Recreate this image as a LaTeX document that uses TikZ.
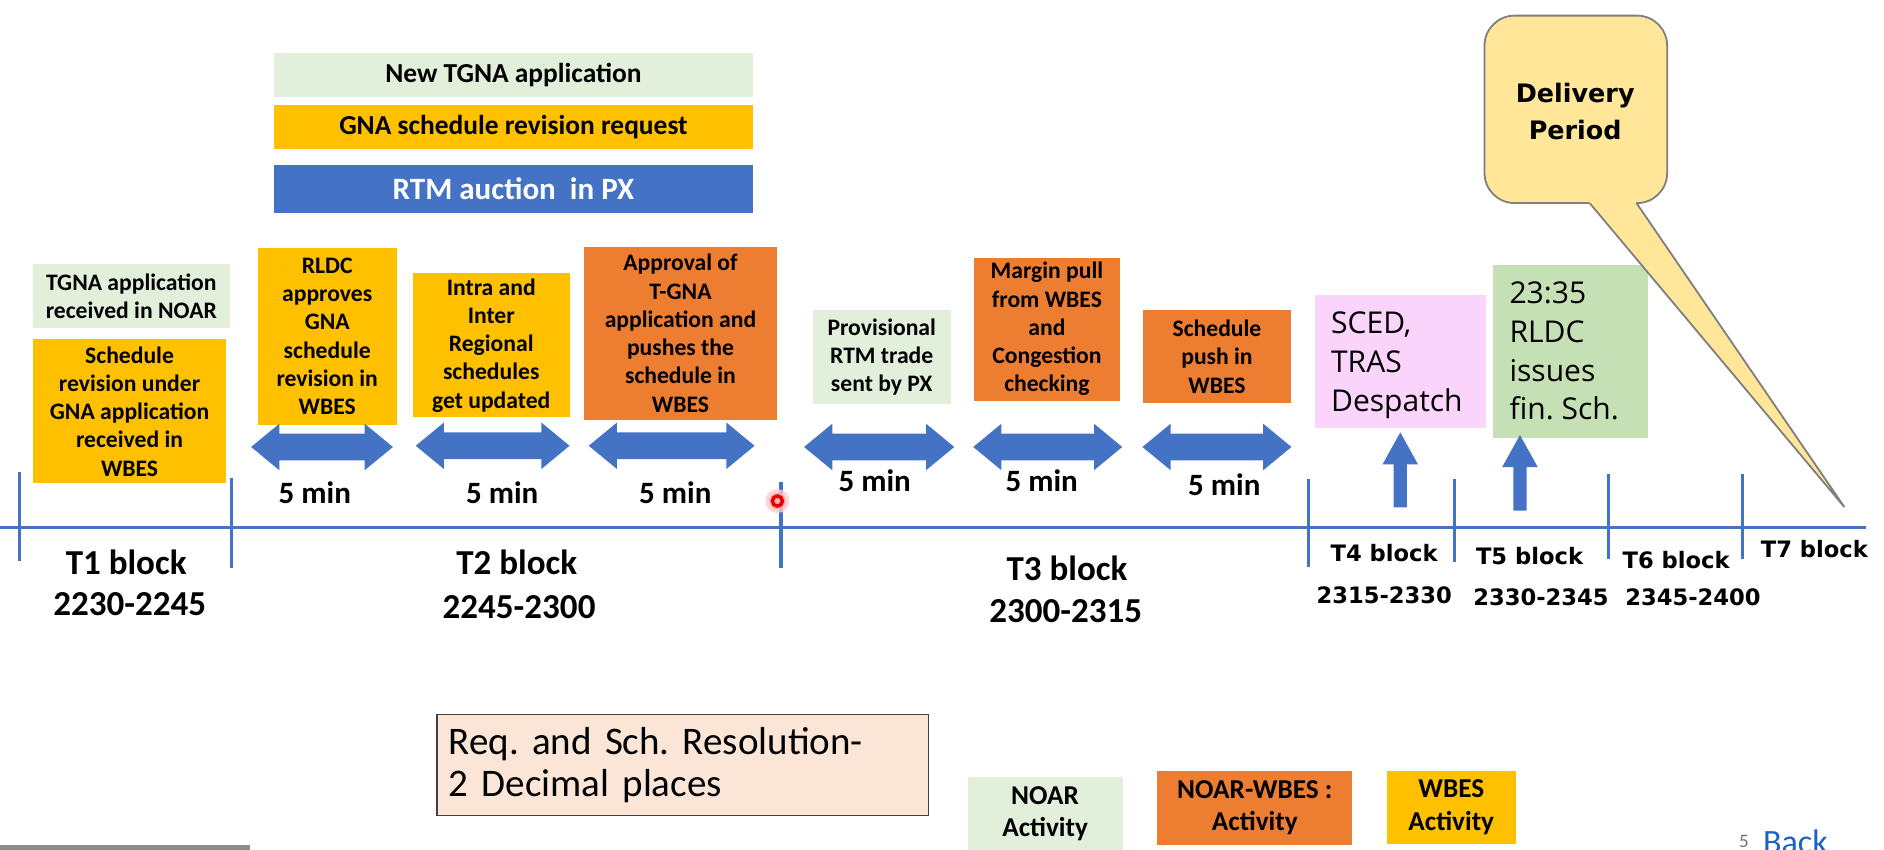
\documentclass[tikz,border=0pt]{standalone}
\usepackage{fontspec}
\setmainfont{Carlito}
\newfontfamily\verdfont{DejaVu Sans}
\newfontfamily\osfont{Open Sans}
\usetikzlibrary{shapes.arrows}
\definecolor{lgreen}{HTML}{E2EFDA}
\definecolor{myyellow}{HTML}{FFC000}
\definecolor{myorange}{HTML}{ED7D31}
\definecolor{myblue}{HTML}{4472C4}
\definecolor{mypink}{HTML}{FAD4FA}
\definecolor{mygreen}{HTML}{C5E0B4}
\definecolor{callfill}{HTML}{FFE699}
\definecolor{callborder}{HTML}{7F7F7F}
\definecolor{reqfill}{HTML}{FBE5D6}
\definecolor{backblue}{HTML}{1F62C6}
\frenchspacing
\begin{document}
\begin{tikzpicture}[x=0.6pt,y=-0.6pt,
  box/.style={anchor=north west, inner sep=0pt, align=center, text=black,
    font=\bfseries\fontsize{11.8}{14.1}\selectfont},
  topbox/.style={anchor=north west, inner sep=0pt, minimum width=398*0.6pt,
    font=\bfseries\fontsize{13.7}{16}\selectfont},
  dbl/.style={double arrow, fill=myblue, draw=none, inner xsep=0pt,
    inner ysep=10.75*0.6pt, double arrow head extend=8.25*0.6pt,
    double arrow tip angle=79},
  uparr/.style={single arrow, fill=myblue, draw=none, inner xsep=0pt,
    inner ysep=5.15*0.6pt, single arrow head extend=9.3*0.6pt,
    single arrow tip angle=58, rotate=90},
  mins/.style={font=\bfseries\fontsize{15.5}{18}\selectfont},
  blk/.style={font=\bfseries\fontsize{17.5}{20}\selectfont},
  blks/.style={font=\verdfont\bfseries\fontsize{11.3}{13}\selectfont},
  tl/.style={draw=myblue, line width=1.7pt},
  leg/.style={anchor=north west, inner sep=0pt, align=center,
    font=\bfseries\fontsize{13.6}{16.2}\selectfont},
  note/.style={anchor=north west, inner sep=0pt, align=left,
    font=\osfont\fontsize{15}{19.4}\selectfont},
]
\useasboundingbox (0,0) rectangle (1568,707);
\clip (0,0) rectangle (1568,707);
\fill[white] (0,0) rectangle (1568,707);

% top bars
\node[topbox, fill=lgreen, minimum height=36*0.6pt] (tA) at (228,44) {New TGNA application};
\node[topbox, fill=myyellow, minimum height=37*0.6pt] (tB) at (228,87) {GNA schedule revision request};
\node[topbox, fill=myblue, text=white, minimum height=40*0.6pt,
  font=\bfseries\fontsize{15.5}{18}\selectfont] (tC) at (228,137) {RTM auction~ in PX};

% activity boxes
\node[box, fill=lgreen, minimum width=164*0.6pt, minimum height=54*0.6pt] (b1) at (27,219) {TGNA application\\received in NOAR};
\node[box, fill=myyellow, minimum width=161*0.6pt, minimum height=120*0.6pt] (b2) at (27,282) {Schedule\\revision under\\GNA application\\received in\\WBES};
\node[box, fill=myyellow, minimum width=116*0.6pt, minimum height=147*0.6pt] (b3) at (214,206) {RLDC\\approves\\GNA\\schedule\\revision in\\WBES};
\node[box, fill=myyellow, minimum width=131*0.6pt, minimum height=120*0.6pt] (b4) at (343,227) {Intra and\\Inter\\Regional\\schedules\\get updated};
\node[box, fill=myorange, minimum width=160*0.6pt, minimum height=144*0.6pt] (b5) at (486,205) {Approval of\\T-GNA\\application and\\pushes the\\schedule in\\WBES};
\node[box, fill=lgreen, minimum width=115*0.6pt, minimum height=78*0.6pt] (b6) at (676,258) {Provisional\\RTM trade\\sent by PX};
\node[box, fill=myorange, minimum width=122*0.6pt, minimum height=119*0.6pt] (b7) at (810,214) {Margin pull\\from WBES\\and\\Congestion\\checking};
\node[box, fill=myorange, minimum width=123*0.6pt, minimum height=77*0.6pt] (b8) at (951,258) {Schedule\\push in\\WBES};

% double arrows
\node[dbl, minimum height=118*0.6pt] (d1) at (268,372) {};
\node[dbl, minimum height=128*0.6pt] (d2) at (410,371) {};
\node[dbl, minimum height=138*0.6pt] (d3) at (559,371) {};
\node[dbl, minimum height=125*0.6pt] (d4) at (731.7,372) {};
\node[dbl, minimum height=124*0.6pt] (d5) at (872,372) {};
\node[dbl, minimum height=124*0.6pt] (d6) at (1012.8,372) {};

% 5 min labels
\node[mins] (m1) at (262,410) {5 min};
\node[mins] (m2) at (418,410) {5 min};
\node[mins] (m3) at (562,410) {5 min};
\node[mins] (m4) at (728,400) {5 min};
\node[mins] (m5) at (867,400) {5 min};
\node[mins] (m6) at (1019,403) {5 min};

% timeline
\coordinate (tlL) at (0,439);
\coordinate (tlR) at (1553,439);
\draw[tl] (tlL) -- (tlR);
\draw[tl] (16,393) -- (16,467);
\draw[tl] (192.5,398) -- (192.5,473);
\draw[tl] (650,401) -- (650,473);
\draw[tl] (1089,399) -- (1089,472);
\draw[tl] (1210.5,399) -- (1210.5,468);
\draw[tl] (1338.7,394.5) -- (1338.7,465);
\draw[tl] (1450,394.5) -- (1450,465);

% block labels
\node[blk] (t1) at (105,468) {T1 block};
\node[blk] (r1) at (108,503) {2230-2245};
\node[blk] (t2) at (430,468) {T2 block};
\node[blk] (r2) at (432,505) {2245-2300};
\node[blk] (t3) at (888,473) {T3 block};
\node[blk] (r3) at (887,509) {2300-2315};
\node[blks] (t4) at (1152,460) {T4 block};
\node[blks] (r4) at (1152,495) {2315-2330};
\node[blks] (t5) at (1273,463) {T5 block};
\node[blks] (r5) at (1282.5,497) {2330-2345};
\node[blks] (t6) at (1395,466) {T6 block};
\node[blks] (r6) at (1409,497) {2345-2400};
\node[blks] (t7) at (1510,457) {T7 block};

% SCED and final schedule boxes
\node[anchor=north west, fill=mypink, inner sep=0pt, minimum width=142*0.6pt, minimum height=111*0.6pt] (sced) at (1094,245) {};
\node[note] (scedt) at (1107.5,259) {SCED,\\TRAS\\Despatch};
\node[anchor=north west, fill=mygreen, inner sep=0pt, minimum width=129*0.6pt, minimum height=144*0.6pt] (fin) at (1242,220) {};
\node[note] (fint) at (1256,234) {23:35\\RLDC\\issues\\fin. Sch.};

% up arrows
\node[uparr, minimum height=62.4*0.6pt] (u1) at (1165.4,396) {};
\node[uparr, minimum height=63*0.6pt] (u2) at (1265,398.5) {};

% delivery period callout
\filldraw[fill=callfill, draw=callborder, line width=0.9pt, rounded corners=15pt] (1235.5,13) rectangle (1387.5,169);
\fill[callfill] (1315.5,160) -- (1535,422) -- (1355.8,160) -- cycle;
\draw[callborder, line width=0.9pt] (1323,169) -- (1535,422) -- (1362,169);
\node[align=center, font=\verdfont\bfseries\fontsize{12.7}{18.6}\selectfont] (dp) at (1311,93) {Delivery\\Period};

% laser pointer dot
\fill[red!20, opacity=0.8] (647,417) circle[radius=10];
\fill[red!40, opacity=0.6] (647,417) circle[radius=7];
\draw[red!90!black, line width=1.7pt] (647,417) circle[radius=4.2];

% resolution note
\node[anchor=north west, draw=black!75, line width=0.8pt, fill=reqfill,
  minimum width=409*0.6pt, minimum height=84*0.6pt, inner xsep=10*0.6pt, inner ysep=0pt,
  align=left, text width=389*0.6pt, font=\fontsize{19.5}{21}\selectfont] (req) at (363,594)
  {Req. and Sch. Resolution-\\2 Decimal places};

% legend
\node[leg, fill=lgreen, minimum width=129*0.6pt, minimum height=62*0.6pt] (lg1) at (805,646) {NOAR\\Activity};
\node[leg, fill=myorange, minimum width=162*0.6pt, minimum height=62*0.6pt] (lg2) at (963,641) {NOAR-WBES :\\Activity};
\node[leg, fill=myyellow, minimum width=107*0.6pt, minimum height=61*0.6pt] (lg3) at (1154,641) {WBES\\Activity};

% footer
\fill[black!45] (0,703) rectangle (208,710);
\node[anchor=base west, inner sep=0pt, text=black!55, font=\fontsize{9.5}{10}\selectfont] (pg) at (1447,705) {5};
\node[anchor=base west, inner sep=0pt, text=backblue, font=\fontsize{17}{18}\selectfont] (back) at (1467,710) {Back};
\end{tikzpicture}
\end{document}
